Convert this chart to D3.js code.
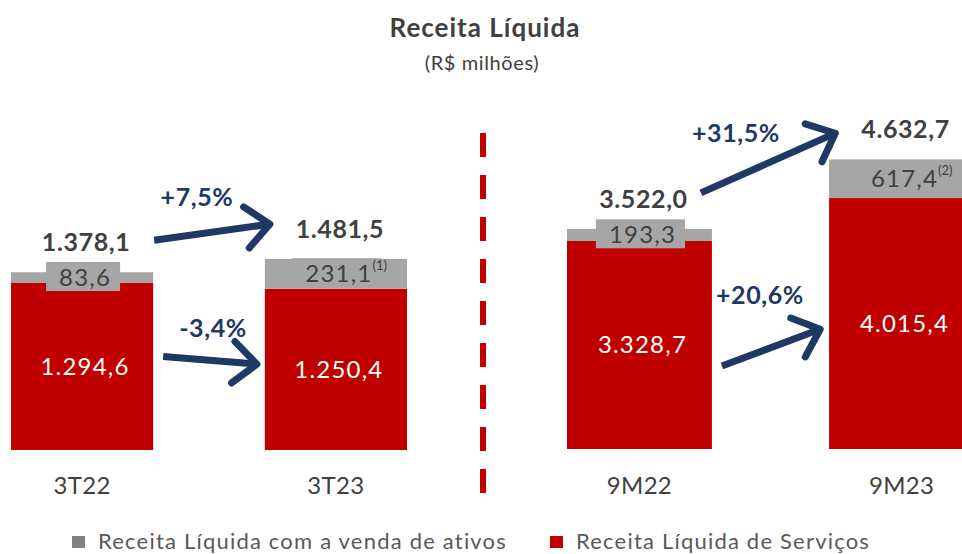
<!DOCTYPE html>
<html>
<head>
<meta charset="utf-8">
<script src="https://cdn.jsdelivr.net/npm/d3@7"></script>
<style>
  body { margin: 0; background: #fff; }
  svg { display: block; font-family: Lato, "Open Sans", sans-serif; }
</style>
</head>
<body>
<div id="chart"></div>
<script>
// chart values
const categoriesLeft = ["3T22", "3T23"];
const categoriesRight = ["9M22", "9M23"];
const servicos = { "3T22": 1294.6, "3T23": 1250.4, "9M22": 3328.7, "9M23": 4015.4 };
const ativos = { "3T22": 83.6, "3T23": 231.1, "9M22": 193.3, "9M23": 617.4 };
const totals = { "3T22": 1378.1, "3T23": 1481.5, "9M22": 3522.0, "9M23": 4632.7 };
const footnotes = { "3T23": "(1)", "9M23": "(2)" };
const seriesNames = ["Receita Líquida com a venda de ativos", "Receita Líquida de Serviços"];
const variations = [
  { from: "3T22", to: "3T23", series: "total", label: "+7,5%" },
  { from: "3T22", to: "3T23", series: "servicos", label: "-3,4%" },
  { from: "9M22", to: "9M23", series: "total", label: "+31,5%" },
  { from: "9M22", to: "9M23", series: "servicos", label: "+20,6%" }
];

const fmt = v => {
  const s = v.toFixed(1).split(".");
  return s[0].replace(/\B(?=(\d{3})+(?!\d))/g, ".") + "," + s[1];
};

const width = 962, height = 554;
const red = "#c00000", gray = "#a6a6a6", navy = "#1f3864", dark = "#404040";

const svg = d3.select("#chart").append("svg")
  .attr("width", width)
  .attr("height", height);

svg.append("text")
  .attr("x", 485).attr("y", 37)
  .attr("text-anchor", "middle")
  .attr("font-size", 26).attr("font-weight", "bold")
  .attr("letter-spacing", 1)
  .attr("fill", dark)
  .text("Receita Líquida");

svg.append("text")
  .attr("x", 482).attr("y", 70)
  .attr("text-anchor", "middle")
  .attr("font-size", 20)
  .attr("letter-spacing", 0.6)
  .attr("fill", dark)
  .text("(R$ milhões)");

// two panels, each with its own scale
const panels = [
  {
    cats: categoriesLeft,
    x: d3.scaleBand().domain(categoriesLeft).range([11, 407]).paddingInner(0.44),
    y: d3.scaleLinear().domain([0, 1500]).range([450, 256.5])
  },
  {
    cats: categoriesRight,
    x: d3.scaleBand().domain(categoriesRight).range([567, 974]).paddingInner(0.447),
    y: d3.scaleLinear().domain([0, 5000]).range([449, 136.5])
  }
];

const catPanel = {};
panels.forEach(p => p.cats.forEach(c => { catPanel[c] = p; }));

panels.forEach(p => {
  const g = svg.append("g");
  const bw = p.x.bandwidth();

  // services (red)
  g.selectAll("rect.serv")
    .data(p.cats)
    .join("rect")
    .attr("class", "serv")
    .attr("x", d => p.x(d))
    .attr("width", bw)
    .attr("y", d => p.y(servicos[d]))
    .attr("height", d => p.y(0) - p.y(servicos[d]))
    .attr("fill", red);

  // asset sales (gray)
  g.selectAll("rect.ativ")
    .data(p.cats)
    .join("rect")
    .attr("class", "ativ")
    .attr("x", d => p.x(d))
    .attr("width", bw)
    .attr("y", d => p.y(servicos[d] + ativos[d]))
    .attr("height", d => p.y(servicos[d]) - p.y(servicos[d] + ativos[d]))
    .attr("fill", gray);

  // red labels
  g.selectAll("text.servLabel")
    .data(p.cats)
    .join("text")
    .attr("class", "servLabel")
    .attr("x", d => p.x(d) + bw / 2 + 3)
    .attr("y", d => (p.y(0) + p.y(servicos[d])) / 2)
    .attr("dy", "0.35em")
    .attr("text-anchor", "middle")
    .attr("font-size", 24)
    .attr("letter-spacing", 1.2)
    .attr("fill", "#fff")
    .text(d => fmt(servicos[d]));

  // gray labels with background box
  p.cats.forEach(d => {
    const cx = p.x(d) + bw / 2 + 3;
    const cy = (p.y(servicos[d]) + p.y(servicos[d] + ativos[d])) / 2;
    const box = g.append("rect").attr("fill", gray);
    const t = g.append("text")
      .attr("x", cx)
      .attr("y", cy)
      .attr("dy", "0.35em")
      .attr("text-anchor", "middle")
      .attr("font-size", 24)
      .attr("letter-spacing", 1.2)
      .attr("fill", dark)
      .text(fmt(ativos[d]));
    const bb = t.node().getBBox();
    box.attr("x", bb.x - 13).attr("y", bb.y)
      .attr("width", bb.width + 22).attr("height", bb.height);
    if (footnotes[d]) {
      g.append("text")
        .attr("x", bb.x + bb.width)
        .attr("y", bb.y + 12)
        .attr("font-size", 13)
        .attr("fill", dark)
        .text(footnotes[d]);
    }
  });

  // totals
  g.selectAll("text.total")
    .data(p.cats)
    .join("text")
    .attr("class", "total")
    .attr("x", d => p.x(d) + bw / 2 + 4)
    .attr("y", d => p.y(totals[d]) - 30)
    .attr("dy", "0.35em")
    .attr("text-anchor", "middle")
    .attr("font-size", 25)
    .attr("letter-spacing", 0.6)
    .attr("font-weight", "bold")
    .attr("fill", dark)
    .text(d => fmt(totals[d]));

  // category labels
  g.selectAll("text.cat")
    .data(p.cats)
    .join("text")
    .attr("class", "cat")
    .attr("x", d => p.x(d) + bw / 2)
    .attr("y", 494)
    .attr("text-anchor", "middle")
    .attr("font-size", 24)
    .attr("letter-spacing", 0.3)
    .attr("fill", dark)
    .text(d => d);
});

// dashed divider
svg.append("line")
  .attr("x1", 483).attr("x2", 483)
  .attr("y1", 133).attr("y2", 493)
  .attr("stroke", red)
  .attr("stroke-width", 6)
  .attr("stroke-dasharray", "24 18");

// arrows: anchor offsets relative to the bars
const arrowLayout = [
  { sx: 1, sy: -32, ex: 7, ey: -35, tx: -16, ty: -35 },
  { sx: 10, sy: -10, ex: -6, ey: -5, tx: 2, ty: -32 },
  { sx: -11, sy: -36, ex: 8, ey: -27, tx: -33, ty: -29 },
  { sx: 10, sy: 21, ex: -7, ey: 5, tx: -12, ty: -52 }
];

const anchorY = (cat, series) => {
  const p = catPanel[cat];
  if (series === "total") return p.y(totals[cat]);
  return (p.y(0) + p.y(servicos[cat])) / 2;
};

variations.forEach((v, i) => {
  const L = arrowLayout[i];
  const pa = catPanel[v.from], pb = catPanel[v.to];
  const x0 = pa.x(v.from) + pa.x.bandwidth() + L.sx;
  const y0 = anchorY(v.from, v.series) + L.sy;
  const x1 = pb.x(v.to) + L.ex;
  const y1 = anchorY(v.to, v.series) + L.ey;
  const ang = Math.atan2(y1 - y0, x1 - x0);
  const hl = 33, ha = 0.68;
  const a1 = [x1 - hl * Math.cos(ang - ha), y1 - hl * Math.sin(ang - ha)];
  const a2 = [x1 - hl * Math.cos(ang + ha), y1 - hl * Math.sin(ang + ha)];

  svg.append("line")
    .attr("x1", x0).attr("y1", y0)
    .attr("x2", x1 - 3 * Math.cos(ang)).attr("y2", y1 - 3 * Math.sin(ang))
    .attr("stroke", navy)
    .attr("stroke-width", 7);

  svg.append("path")
    .attr("d", `M${a1[0]},${a1[1]}L${x1 - 2 * Math.cos(ang)},${y1 - 2 * Math.sin(ang)}L${a2[0]},${a2[1]}`)
    .attr("fill", "none")
    .attr("stroke", navy)
    .attr("stroke-width", 7)
    .attr("stroke-linecap", "round")
    .attr("stroke-linejoin", "round");

  svg.append("text")
    .attr("x", (x0 + x1) / 2 + L.tx)
    .attr("y", (y0 + y1) / 2 + L.ty)
    .attr("dy", "0.35em")
    .attr("text-anchor", "middle")
    .attr("font-size", 25)
    .attr("letter-spacing", 0.6)
    .attr("font-weight", "bold")
    .attr("fill", navy)
    .text(v.label);
});

// legend
const legend = svg.append("g");
const legendItems = [
  { name: seriesNames[0], color: "#808080", x: 72 },
  { name: seriesNames[1], color: red, x: 550 }
];
legendItems.forEach(item => {
  legend.append("rect")
    .attr("x", item.x).attr("y", 536)
    .attr("width", 13).attr("height", 12)
    .attr("fill", item.color);
  legend.append("text")
    .attr("x", item.x + 26).attr("y", 549)
    .attr("font-size", 22)
    .attr("letter-spacing", 1.2)
    .attr("fill", "#595959")
    .text(item.name);
});
</script>
</body>
</html>
